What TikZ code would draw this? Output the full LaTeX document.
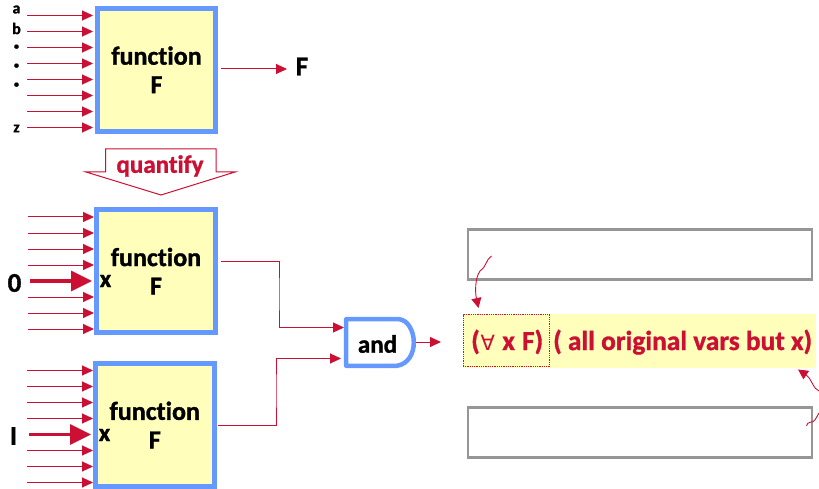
\documentclass[tikz,border=0pt]{standalone}
\usepackage{fontspec}
\setmainfont{Carlito}[BoldFont=Carlito Bold,BoldFeatures={FakeBold=1.2},RawFeature={-liga;-clig;-dlig}]
\newfontfamily\symfont{DejaVu Sans}
\usetikzlibrary{arrows.meta}
\definecolor{crim}{RGB}{204,16,52}
\definecolor{boxblue}{RGB}{102,153,255}
\definecolor{paleyel}{RGB}{255,255,187}
\definecolor{grayrim}{RGB}{150,150,150}
\tikzset{
  every node/.style={font=\bfseries, inner sep=0pt},
  funcbox/.style={draw=boxblue, fill=paleyel, line width=5pt, minimum width=118.5pt, minimum height=122.5pt, align=center, font=\bfseries\fontsize{26}{28.5}\selectfont},
  wire/.style={draw=crim, line width=1pt, -{Triangle[length=11pt,width=10pt]}},
  fatwire/.style={draw=crim, line width=3.2pt, -{Triangle[length=21pt,width=20pt]}},
  inlabel/.style={font=\bfseries\fontsize{16}{16}\selectfont},
  dotlabel/.style={font=\bfseries\fontsize{10}{10}\selectfont},
  biglabel/.style={font=\bfseries\fontsize{27}{27}\selectfont},
  xlabel/.style={font=\bfseries\fontsize{25}{25}\selectfont},
  emptybox/.style={draw=grayrim, fill=white, line width=2.5pt, minimum width=344pt, minimum height=50pt},
  crimtext/.style={text=crim, font=\bfseries\fontsize{27.4}{27.4}\selectfont},
  squiggle/.style={draw=crim, line width=0.9pt}
}
\begin{document}
\begin{tikzpicture}[x=1pt,y=-1pt]
\useasboundingbox (0,0) rectangle (819,489);
% function boxes
\node[funcbox] (f1) at (156.5,69.8) {function\\F};
\node[funcbox] (f2) at (156,271.2) {function\\F};
\node[funcbox] (f3) at (154.8,425) {function\\F};
% inputs of box 1
\foreach \i/\y in {1/15.5,2/31.5,3/47.5,4/63.5,5/79.5,6/95.5,7/111.5,8/127.5}{
  \coordinate (ta\i) at (27,\y);
  \coordinate (ha\i) at (93,\y);
  \draw[wire] (ta\i) -- (ha\i);
}
\node[inlabel] (la) at (16.5,9.5) {a};
\node[inlabel] (lb) at (16.5,28.5) {b};
\node[dotlabel] (ld1) at (16.5,47) {•};
\node[dotlabel] (ld2) at (16.5,66) {•};
\node[dotlabel] (ld3) at (16.5,85) {•};
\node[inlabel] (lz) at (16.5,128.5) {z};
% output of box 1
\node[biglabel] (fout) at (302,66.5) {F};
\coordinate (o1) at (221,69);
\coordinate (o1e) at (287,69);
\draw[wire] (o1) -- (o1e);
% quantify
\coordinate (q1) at (105.5,149);
\coordinate (q2) at (216,149);
\coordinate (q3) at (216,172);
\coordinate (q4) at (235,172);
\coordinate (q5) at (161,195);
\coordinate (q6) at (86,172);
\coordinate (q7) at (105.5,172);
\draw[crim, line width=1pt, fill=white] (q1) -- (q2) -- (q3) -- (q4) -- (q5) -- (q6) -- (q7) -- cycle;
\node[text=crim, font=\bfseries\fontsize{25}{25}\selectfont] (qt) at (160,166) {quantify};
% inputs of box 2
\foreach \i/\y in {1/217,2/233,3/249,4/265,6/297,7/313,8/329}{
  \coordinate (tb\i) at (28,\y);
  \coordinate (hb\i) at (94,\y);
  \draw[wire] (tb\i) -- (hb\i);
}
\coordinate (tb5) at (30,281);
\coordinate (hb5) at (92,281);
\draw[fatwire] (tb5) -- (hb5);
\node[biglabel] (l0) at (14.5,283) {0};
\node[xlabel] (x2) at (105.5,281) {x};
% inputs of box 3
\foreach \i/\y in {1/370.5,2/386.5,3/402.5,4/418.5,6/450.5,7/466.5,8/482.5}{
  \coordinate (tc\i) at (27,\y);
  \coordinate (hc\i) at (93,\y);
  \draw[wire] (tc\i) -- (hc\i);
}
\coordinate (tc5) at (29,434.5);
\coordinate (hc5) at (91,434.5);
\draw[fatwire] (tc5) -- (hc5);
\node[biglabel] (l1) at (13.5,436) {I};
\node[xlabel] (x3) at (104.5,435) {x};
% and gate
\node[minimum width=67.6pt, minimum height=46.6pt, outer sep=0pt] (gate) at (380,342.5) {};
\draw[boxblue, line width=4.5pt, line join=round] (gate.north west) -- (399,319.2) .. controls (408,320) and (413.8,331) .. (413.8,342.5) .. controls (413.8,354) and (408,364) .. (397,365.8) -- (gate.south west) -- cycle;
\node[font=\bfseries\fontsize{25}{25}\selectfont] (andt) at (377.5,344) {and};
\coordinate (gin1) at (344,327.5);
\coordinate (gin2) at (341,358.5);
\coordinate (gout) at (416,342);
\coordinate (goutE) at (441,342);
\coordinate (j1) at (221,261.5);
\coordinate (j2) at (218,425);
\draw[wire] (j1) -| (279,294) |- (gin1);
\draw[wire] (j2) -| (276,390) |- (gin2);
\draw[wire] (gout) -- (goutE);
% right panel
\node[emptybox] (top) at (640.2,254.3) {};
\node[emptybox] (bot) at (640.2,432.5) {};
\fill[paleyel] (463,314) rectangle (816,368);
\node[draw=crim, densely dotted, line width=0.8pt, minimum width=86.5pt, minimum height=52pt] (quant) at (506.2,340.5) {};
\node[crimtext, anchor=base west] (expr1) at (471,350) {(\kern1pt{\symfont\mdseries\fontsize{21}{21}\selectfont ∀}\kern1pt\ x\kern1pt\ F)};
\node[crimtext, anchor=base west] (expr2) at (553,350) {( all original vars but x)};
% squiggles
\coordinate (s1) at (491.5,256);
\coordinate (s1e) at (478.5,308);
\draw[squiggle, -{Triangle[length=10pt,width=10pt]}] (s1) .. controls (486,259) and (486,268) .. (480,271) .. controls (475,278) and (475,292) .. (s1e);
\coordinate (s2) at (819,391);
\coordinate (s2e) at (798,369.5);
\draw[squiggle, -{Triangle[length=10pt,width=10pt]}] (s2) .. controls (813,389) and (812,379) .. (s2e);
\coordinate (s3) at (819,413);
\coordinate (s3e) at (806.5,426);
\draw[squiggle] (s3) .. controls (816,418) and (814,423) .. (811,422) .. controls (808,422) and (807,424) .. (s3e);
\end{tikzpicture}
\end{document}
